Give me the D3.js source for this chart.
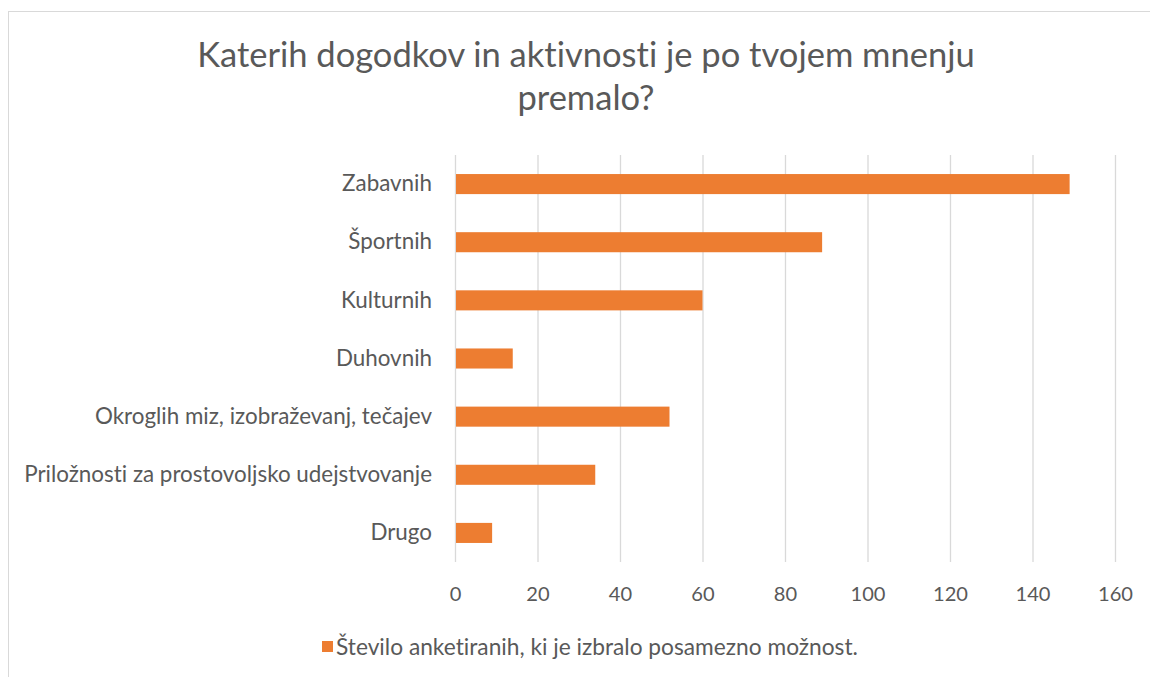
<!DOCTYPE html>
<html><head><meta charset="utf-8">
<script src="https://cdn.jsdelivr.net/npm/d3@7"></script>
<style>
html,body{margin:0;padding:0;background:#fff;}
text{font-family:Lato,"Open Sans",sans-serif;fill:#595959;font-variant-ligatures:none;font-feature-settings:"liga" 0,"clig" 0;}
</style></head>
<body>
<svg id="chart" width="1150" height="677"></svg>
<script>
const titleLines = ["Katerih dogodkov in aktivnosti je po tvojem mnenju", "premalo?"];
const categories = ["Zabavnih", "Športnih", "Kulturnih", "Duhovnih", "Okroglih miz, izobraževanj, tečajev", "Priložnosti za prostovoljsko udejstvovanje", "Drugo"];
const values = [149, 89, 60, 14, 52, 34, 9];
const xTicks = [0, 20, 40, 60, 80, 100, 120, 140, 160];
const seriesName = "Število anketiranih, ki je izbralo posamezno možnost.";
const barColor = "#ED7D31";

const svg = d3.select("#chart");

// fit a font size so that a sample string spans a target width
function fitSize(sample, target, base) {
  const t = svg.append("text").style("font-size", base + "px").text(sample);
  const w = t.node().getComputedTextLength();
  t.remove();
  return base * target / w;
}
const titleSize = fitSize(titleLines[0], 778, 30);
const catSize = fitSize(categories[5], 408, 18);
const tickSize = fitSize("160", 35, 18);
const legSize = fitSize(seriesName, 522, 18);

// outer border
svg.append("rect").attr("x", 8.5).attr("y", 11.5).attr("width", 1160).attr("height", 700)
  .attr("fill", "none").attr("stroke", "#d9d9d9").attr("stroke-width", 1);

const m = {left: 455, right: 1115, top: 155, bottom: 562};
const x = d3.scaleLinear().domain([0, 160]).range([m.left, m.right]);
const y = d3.scaleBand().domain(categories).range([m.top, m.bottom]).paddingInner(0.655).paddingOuter(0.3275);

// gridlines
svg.append("g").selectAll("line").data(xTicks).join("line")
  .attr("x1", d => x(d) + 0.5).attr("x2", d => x(d) + 0.5)
  .attr("y1", m.top).attr("y2", m.bottom)
  .attr("stroke", "#d9d9d9").attr("stroke-width", 1.3);

// bars
svg.append("g").selectAll("rect").data(values).join("rect")
  .attr("x", x(0) + 1).attr("y", (d, i) => y(categories[i]))
  .attr("width", d => x(d) - x(0) - 1).attr("height", y.bandwidth())
  .attr("fill", barColor);

// category axis
const yAxis = d3.axisLeft(y).tickSize(0).tickPadding(23);
const gy = svg.append("g").attr("transform", `translate(${m.left},0)`).call(yAxis);
gy.select(".domain").remove();
gy.selectAll("text").style("font-size", catSize + "px").style("fill", "#595959").attr("font-family", null);

// value axis
const xAxis = d3.axisBottom(x).tickValues(xTicks).tickSize(0).tickPadding(25);
const gx = svg.append("g").attr("transform", `translate(0,${m.bottom})`).call(xAxis);
gx.select(".domain").remove();
gx.selectAll("text").style("font-size", tickSize + "px").style("fill", "#595959").attr("font-family", null);

// title
svg.append("g").selectAll("text").data(titleLines).join("text")
  .attr("x", 586).attr("y", (d, i) => 67 + i * 43)
  .attr("text-anchor", "middle").style("font-size", titleSize + "px").text(d => d);

// legend
svg.append("rect").attr("x", 322).attr("y", 641).attr("width", 11).attr("height", 11).attr("fill", barColor);
svg.append("text").attr("x", 336).attr("y", 655).style("font-size", legSize + "px").text(seriesName);
</script>
</body></html>
